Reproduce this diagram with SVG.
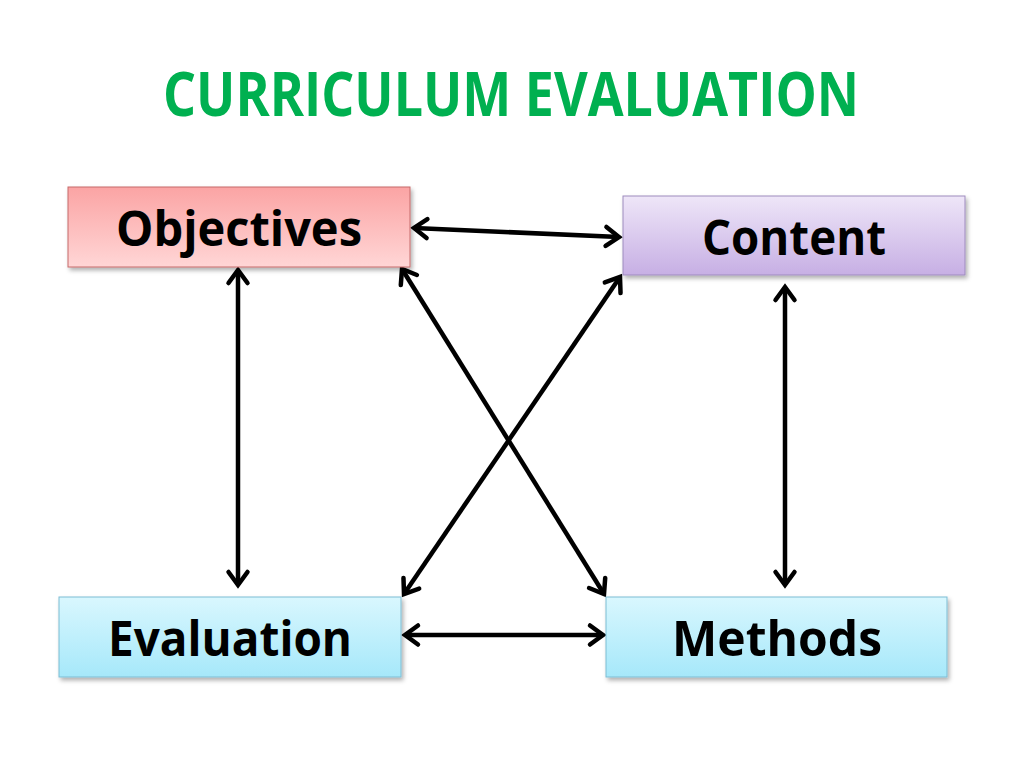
<svg xmlns="http://www.w3.org/2000/svg" width="1024" height="768" viewBox="0 0 1024 768">
<style>
.lbl{font-family:"Open Sans","Liberation Sans",sans-serif;font-weight:bold;font-size:49px;fill:#000;text-anchor:middle}
.title{font-family:"Open Sans","Liberation Sans",sans-serif;font-weight:bold;font-size:60px;fill:#00B050;text-anchor:middle}
.conn{stroke:#000;stroke-width:4.5;fill:none;marker-start:url(#arr);marker-end:url(#arr)}
</style>
<defs>
<linearGradient id="gRed" x1="0" y1="0" x2="0" y2="1"><stop offset="0" stop-color="#FBA4A4"/><stop offset="1" stop-color="#FFD6D6"/></linearGradient>
<linearGradient id="gPur" x1="0" y1="0" x2="0" y2="1"><stop offset="0" stop-color="#EEE6F8"/><stop offset="1" stop-color="#C7AFE4"/></linearGradient>
<linearGradient id="gBlue" x1="0" y1="0" x2="0" y2="1"><stop offset="0" stop-color="#D9F7FE"/><stop offset="1" stop-color="#A6E8FA"/></linearGradient>
<filter id="sh" x="-5%" y="-10%" width="115%" height="130%"><feDropShadow dx="2" dy="3" stdDeviation="2" flood-color="#000" flood-opacity="0.3"/></filter>
<marker id="arr" viewBox="-18 -14 22 28" refX="0" refY="0" markerWidth="22" markerHeight="28" markerUnits="userSpaceOnUse" orient="auto-start-reverse">
<path d="M -13 -9.5 L 0 0 L -13 9.5" stroke="#000" stroke-width="4.5" fill="none" stroke-linecap="round" stroke-linejoin="miter"/>
</marker>
</defs>
<rect width="1024" height="768" fill="#fff"/>
<text class="title" x="511" y="116" textLength="696" lengthAdjust="spacingAndGlyphs">CURRICULUM EVALUATION</text>
<g id="connectors">
<line class="conn" x1="414" y1="228" x2="619" y2="237"/>
<line class="conn" x1="238" y1="270" x2="238" y2="585"/>
<line class="conn" x1="785" y1="287" x2="785" y2="585"/>
<line class="conn" x1="405" y1="635" x2="603" y2="635"/>
<line class="conn" x1="402" y1="269" x2="604" y2="594"/>
<line class="conn" x1="620" y1="277" x2="404" y2="594"/>
</g>
<g id="objectives">
<rect x="68" y="187" width="342" height="80" fill="url(#gRed)" stroke="#C66A6A" stroke-width="1" filter="url(#sh)"/>
<text class="lbl" x="239" y="246" textLength="246" lengthAdjust="spacingAndGlyphs">Objectives</text>
</g>
<g id="content">
<rect x="623" y="196" width="342" height="79" fill="url(#gPur)" stroke="#9E8BBE" stroke-width="1" filter="url(#sh)"/>
<text class="lbl" x="794" y="255" textLength="184" lengthAdjust="spacingAndGlyphs">Content</text>
</g>
<g id="evaluation">
<rect x="59" y="597" width="342" height="80" fill="url(#gBlue)" stroke="#7DBDD3" stroke-width="1" filter="url(#sh)"/>
<text class="lbl" x="230" y="656" textLength="244" lengthAdjust="spacingAndGlyphs">Evaluation</text>
</g>
<g id="methods">
<rect x="606" y="597" width="341" height="80" fill="url(#gBlue)" stroke="#7DBDD3" stroke-width="1" filter="url(#sh)"/>
<text class="lbl" x="777" y="656" textLength="210" lengthAdjust="spacingAndGlyphs">Methods</text>
</g>
</svg>
